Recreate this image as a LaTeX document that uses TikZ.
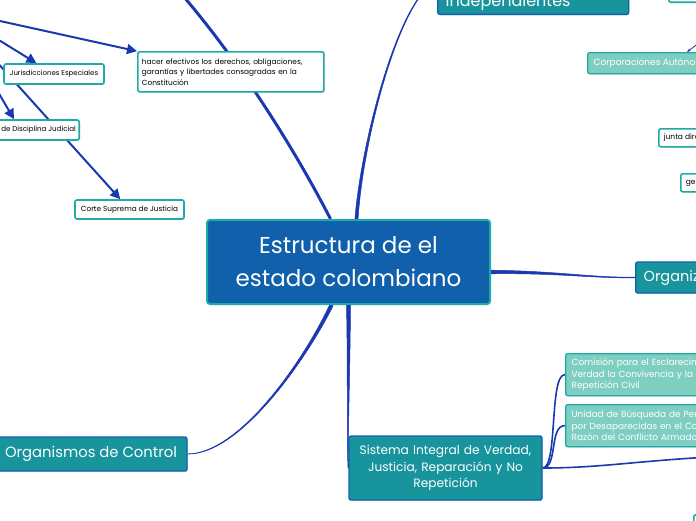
\documentclass[tikz,border=0pt]{standalone}
\usepackage{fontspec}
\setmainfont{Poppins}
\usetikzlibrary{calc,arrows.meta,shadows}
\definecolor{cblue}{RGB}{16,96,172}
\definecolor{lineblue}{RGB}{26,56,176}
\definecolor{teal1}{RGB}{23,148,156}
\definecolor{tealb}{RGB}{30,170,166}
\definecolor{lteal}{RGB}{126,207,193}
\definecolor{bordblue}{RGB}{18,96,176}
\pgfdeclarelayer{bg}
\pgfsetlayers{bg,main}
\tikzset{
 shd/.style={drop shadow={opacity=0.25,shadow xshift=0.8pt,shadow yshift=-1pt}},
 central/.style={fill=cblue, draw=tealb, line width=2pt, rounded corners=3pt, text=white, align=center, shd},
 topic/.style={fill=teal1, draw=bordblue, line width=1.3pt, rounded corners=2pt, text=white, shd},
 subtopic/.style={fill=lteal, draw=tealb, line width=1.3pt, rounded corners=2pt, text=white, shd},
 leaf/.style={fill=white, draw=tealb, line width=1.6pt, rounded corners=2pt, text=black, shd},
 conn/.style={fill=lineblue, draw=lineblue, line width=0.5pt},
 link/.style={draw=lineblue, line width=1.6pt},
 arr/.style={draw=lineblue, line width=2pt, -{Triangle[length=10pt,width=10pt]}},
}
\newcommand\tapr[5]{\fill[conn] ($(#1)+(#5)$) .. controls ($(#2)+0.5*(#5)$) and ($(#3)+0.25*(#5)$) .. ($(#4)+0.15*(#5)$) -- ($(#4)-0.15*(#5)$) .. controls ($(#3)-0.25*(#5)$) and ($(#2)-0.5*(#5)$) .. ($(#1)-(#5)$) -- cycle;}
\hyphenpenalty=10000
\begin{document}
\begin{tikzpicture}[x=1pt,y=-1pt]
\useasboundingbox (0,0) rectangle (696,520);
% nodes
\node[central, minimum width=283pt, minimum height=84pt, font=\fontsize{23}{33}\selectfont] (c) at (348.5,262) {Estructura de el\\estado colombiano};
\node[topic, minimum width=192pt, minimum height=34pt, font=\fontsize{14.8}{18}\selectfont] (org) at (91,454) {Organismos de Control};
\node[topic, minimum width=193pt, minimum height=64pt, text width=180pt, align=center, font=\fontsize{12.2}{16.5}\selectfont] (sis) at (445.5,468) {Sistema Integral de Verdad,\\ Justicia, Reparación y No\\ Repetición};
\node[topic, anchor=west, minimum height=31pt, inner xsep=8pt, font=\fontsize{14.5}{18}\selectfont] (elec) at (635,277.5) {Organización Electoral};
\node[topic, anchor=south west, minimum width=191pt, minimum height=48pt, text width=175pt, inner xsep=8pt, align=left, font=\fontsize{16}{20}\selectfont] (ind) at (437,15) {Órganos Autónomos e\\Independientes};
\node[subtopic, anchor=north west, minimum height=42pt, text width=200pt, inner xsep=6pt, align=left, font=\fontsize{8.9}{11.5}\selectfont] (com) at (565,353) {Comisión para el Esclarecimiento de la\\ Verdad la Convivencia y la No\\ Repetición Civil};
\node[subtopic, anchor=north west, minimum height=42pt, text width=200pt, inner xsep=6pt, align=left, font=\fontsize{8.9}{11.5}\selectfont] (uni) at (565,404) {Unidad de Búsqueda de Personas dadas\\ por Desaparecidas en el Contexto y en\\ Razón del Conflicto Armado};
\node[subtopic, anchor=north west, minimum height=21pt, inner xsep=6pt, font=\fontsize{9}{11}\selectfont] (corp) at (587,52) {Corporaciones Autónomas Regionales};
\node[leaf, anchor=north west, minimum height=18pt, inner xsep=5pt, font=\fontsize{7.5}{10}\selectfont] (jun) at (658,128) {junta directiva};
\node[leaf, anchor=north west, minimum height=18pt, inner xsep=5pt, font=\fontsize{7.5}{10}\selectfont] (ger) at (680,173) {gerente};
\node[leaf, anchor=north west, minimum width=186pt, minimum height=40pt, text width=178pt, inner xsep=4pt, align=left, font=\fontsize{7.4}{10.5}\selectfont] (hac) at (137,51) {hacer efectivos los derechos, obligaciones,\\ garantías y libertades consagradas en la\\ Constitución};
\node[leaf, minimum width=100pt, minimum height=20pt, font=\fontsize{7}{9}\selectfont] (jur) at (54,74) {Jurisdicciones Especiales};
\node[leaf, anchor=east, minimum height=20pt, font=\fontsize{7.1}{9}\selectfont] (dis) at (80,130) {Comisión Nacional de Disciplina Judicial};
\node[leaf, minimum width=109pt, minimum height=19pt, font=\fontsize{7.3}{9}\selectfont] (cor) at (129.5,209.5) {Corte Suprema de Justicia};
\node[leaf, anchor=south west, minimum width=40pt, minimum height=20pt] (tr) at (668,3) {};
\node[leaf, anchor=north west, minimum width=40pt, minimum height=20pt] (br) at (693,514) {};
% free ends
\coordinate (rj) at (-50,10);
\coordinate (tl) at (150,-40);
\coordinate (offr) at (760,455);
\coordinate (corpsrc) at (708,36);
\coordinate (cS1) at ([xshift=-17pt]c.south);
\coordinate (cN1) at ([xshift=8pt]c.north);
\coordinate (cN2) at ([xshift=-18pt]c.north);
\coordinate (cE1) at ([yshift=-10pt]c.east);
\coordinate (disT) at ([xshift=-66pt]dis.north east);
\coordinate (corpT) at ([xshift=100pt]corp.north west);
% connectors
\begin{pgfonlayer}{bg}
\tapr{cS1}{305,360}{240,454}{org.east}{1.6,0.8}
\tapr{c.south}{349,380}{347,440}{sis.west}{2,0}
\tapr{cE1}{560,272}{590,278}{elec.west}{0,1.8}
\tapr{cN1}{362,140}{400,-5}{ind.west}{1.6,0.1}
\draw[lineblue, line width=3pt] (cN2) .. controls (290,140) and (220,30) .. (tl);
\draw[link] (sis.east) .. controls (558,468) and (549,374) .. (com.west);
\draw[link] (sis.east) .. controls (558,468) and (549,425) .. (uni.west);
\draw[link] (sis.east) .. controls (610,468) and (650,458) .. (offr);
\draw[arr] (rj) -- (hac);
\draw[arr] (rj) -- (jur);
\draw[arr] (rj) -- (disT);
\draw[arr] (rj) -- (cor);
\draw[lineblue, line width=0.8pt, -{Stealth[length=4pt]}] (corpsrc) -- (corpT);
\end{pgfonlayer}
\end{tikzpicture}
\end{document}
